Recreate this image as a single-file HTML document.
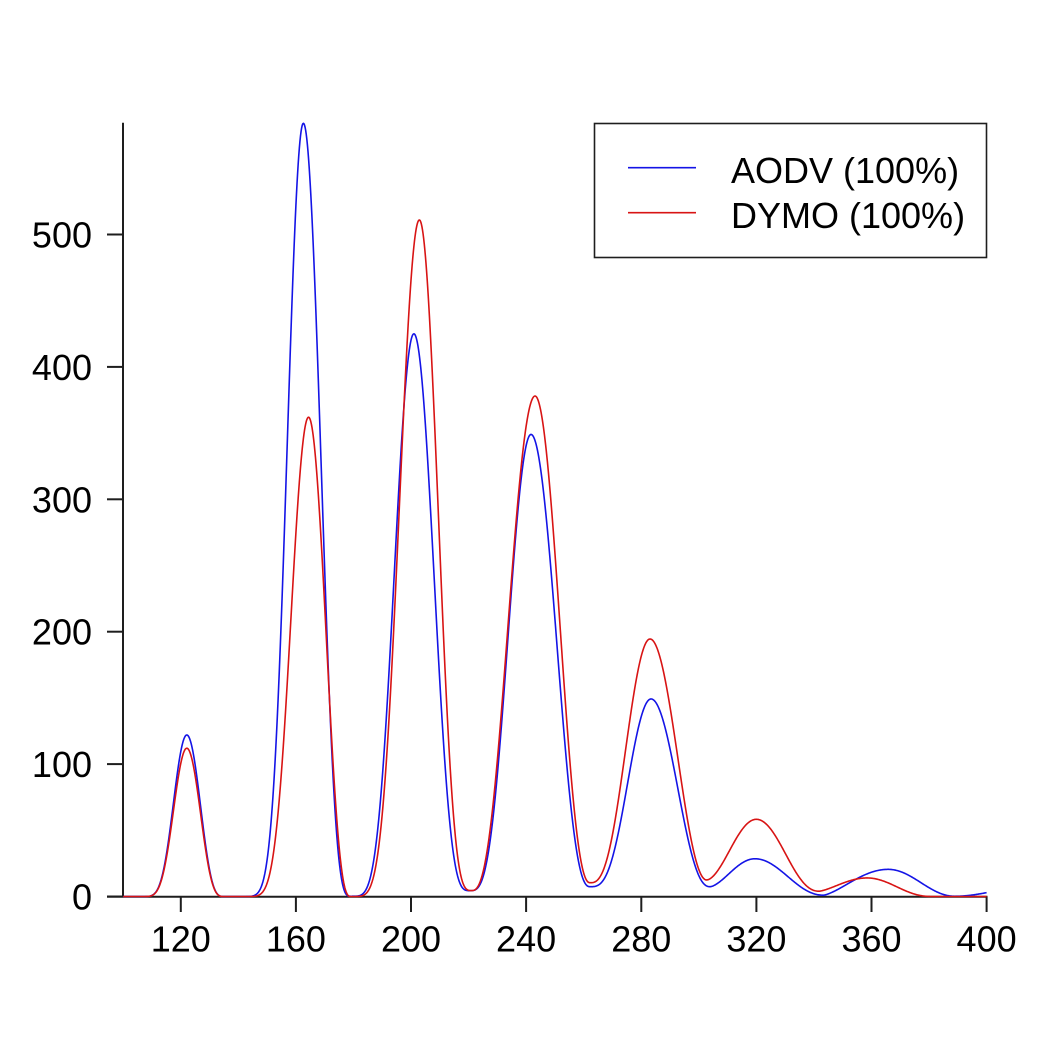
<!DOCTYPE html>
<html>
<head>
<meta charset="utf-8">
<style>
html,body{margin:0;padding:0;background:#fff;width:1050px;height:1050px;overflow:hidden;}
svg{display:block;}
text{font-family:"Liberation Sans",Arial,Helvetica,sans-serif;fill:#000;}
</style>
</head>
<body>
<svg id="chart" width="1050" height="1050" viewBox="0 0 1050 1050" xmlns="http://www.w3.org/2000/svg">
  <rect x="0" y="0" width="1050" height="1050" fill="#ffffff"/>
  <g stroke="#1e1e1e" stroke-width="2" fill="none">
    <line x1="123" y1="122.7" x2="123" y2="897.5"/>
    <line x1="107" y1="896.8" x2="987.5" y2="896.8"/>
    <line x1="107" y1="896.5" x2="123" y2="896.5"/>
    <line x1="107" y1="764.1" x2="123" y2="764.1"/>
    <line x1="107" y1="631.7" x2="123" y2="631.7"/>
    <line x1="107" y1="499.3" x2="123" y2="499.3"/>
    <line x1="107" y1="366.9" x2="123" y2="366.9"/>
    <line x1="107" y1="234.5" x2="123" y2="234.5"/>
    <line x1="180.8" y1="896.8" x2="180.8" y2="912"/>
    <line x1="295.9" y1="896.8" x2="295.9" y2="912"/>
    <line x1="411.0" y1="896.8" x2="411.0" y2="912"/>
    <line x1="526.1" y1="896.8" x2="526.1" y2="912"/>
    <line x1="641.3" y1="896.8" x2="641.3" y2="912"/>
    <line x1="756.4" y1="896.8" x2="756.4" y2="912"/>
    <line x1="871.5" y1="896.8" x2="871.5" y2="912"/>
    <line x1="986.6" y1="896.8" x2="986.6" y2="912"/>
  </g>
  <g font-size="36" text-anchor="end">
    <text x="92" y="909.5">0</text>
    <text x="92" y="777.1">100</text>
    <text x="92" y="644.7">200</text>
    <text x="92" y="512.3">300</text>
    <text x="92" y="379.9">400</text>
    <text x="92" y="247.5">500</text>
  </g>
  <g font-size="36" text-anchor="middle">
    <text x="180.8" y="951.5">120</text>
    <text x="295.9" y="951.5">160</text>
    <text x="411.0" y="951.5">200</text>
    <text x="526.1" y="951.5">240</text>
    <text x="641.3" y="951.5">280</text>
    <text x="756.4" y="951.5">320</text>
    <text x="871.5" y="951.5">360</text>
    <text x="986.6" y="951.5">400</text>
  </g>
  <path id="blueC" d="" fill="none" stroke="#1414e6" stroke-width="1.6" stroke-linejoin="round"/>
  <path id="redC" d="" fill="none" stroke="#d81414" stroke-width="1.6" stroke-linejoin="round"/>
  <rect x="594.5" y="123.5" width="392" height="134" fill="#ffffff" stroke="#1e1e1e" stroke-width="1.6"/>
  <line x1="628" y1="167.7" x2="696" y2="167.7" stroke="#1414e6" stroke-width="1.6"/>
  <line x1="628" y1="212.7" x2="696" y2="212.7" stroke="#d81414" stroke-width="1.6"/>
  <text x="731" y="183" font-size="36">AODV (100%)</text>
  <text x="731" y="228" font-size="36">DYMO (100%)</text>
</svg>
<script>
(function(){
  function X(x){return 123.2+(x-100)*2.878;}
  function Y(y){return 896.5-y*1.324;}
  function B(s){return (1+Math.cos(Math.PI*s))/2;}
  function ends(pts,j){
    var a=pts[j],b=pts[j+1];
    var pk=a[1]>b[1]?a:b, mn=a[1]>b[1]?b:a;
    return [pk,mn,Math.abs(pk[0]-mn[0])];
  }
  function prep(pts,cals){
    return cals.map(function(c,j){
      if(c===null) return null;
      if(typeof c==='number') return c;
      var e=ends(pts,j),pk=e[0],mn=e[1],L=e[2];
      var sum=0;
      c.forEach(function(p){
        var s=Math.abs(p[0]-pk[0])/L;
        var r=(p[1]-mn[1])/(pk[1]-mn[1]);
        r=Math.min(Math.max(r,0.001),0.999);
        var q=Math.log(r)/Math.log(B(s));
        sum+=Math.max(0.7,Math.min(8,q));
      });
      return Math.max(0.7,sum/c.length);
    });
  }
  function evalc(pts,qs,x){
    for(var j=0;j<pts.length-1;j++){
      var a=pts[j],b=pts[j+1];
      if(x>=a[0]&&x<=b[0]){
        if(a[1]===b[1]||qs[j]===null) return a[1];
        var e=ends(pts,j),pk=e[0],mn=e[1],L=e[2];
        var s=Math.abs(x-pk[0])/L;
        return mn[1]+(pk[1]-mn[1])*Math.pow(B(s),qs[j]);
      }
    }
    return 0;
  }
  function build(pts,cals){
    var qs=prep(pts,cals);
    var d='';
    for(var i=0;i<=1500;i++){
      var x=100+i*0.2;
      var y=evalc(pts,qs,x);
      d+=(i?'L':'M')+X(x).toFixed(2)+' '+Y(y).toFixed(2);
    }
    return d;
  }
  var bluePts=[[100,0],[106,0],[122.1,122],[135,0],[139.5,0],[162.6,584],[179,0.2],[201,425],[220.5,4.4],[241.7,349],[262.2,7.4],[283.4,149.2],[303.9,7.4],[319.5,28.5],[343.3,1],[365.8,20.5],[389,0.2],[412,6]];
  var blueCals=[
    null,
    [[116.9,61]],
    [[127.3,61]],
    null,
    [[155.1,224],[158,420],[159.7,500]],
    [[167.8,420],[169.8,224]],
    [[193.9,224],[195.2,292]],
    [[206.8,292],[208.3,224],[213.5,60]],
    [[229.2,88],[235.5,239]],
    [[248.1,239],[256.4,88]],
    [[269.1,32.6],[274.4,82.9],[280.2,133.3]],
    [[287.7,133.3],[292.3,82.9],[297.5,32.6]],
    [[311.9,20]],
    [[328.2,20]],
    [[353.7,12.5]],
    [[375.7,12.5]],
    1
  ];
  var redPts=[[100,0],[106,0],[122.1,112],[135,0],[141.5,0],[164.4,362],[179,0],[202.9,511],[221.1,4.5],[243.1,378],[262.2,10.4],[283.05,194.5],[302.7,12.5],[320,58.3],[341.8,4],[358.5,14],[381,0],[400,0]];
  var redCals=[
    null,
    [[116.9,56]],
    [[127.3,56]],
    null,
    [[158.9,224],[161.7,329.7]],
    [[168.6,329.7],[169,224]],
    [[194.8,224],[195.6,292]],
    [[209.5,292],[210.7,224]],
    [[228.9,88],[235.2,239]],
    [[249.7,239],[257.8,88]],
    [[267.4,32.6],[272.6,82.9],[276.7,133.3]],
    [[290.6,133.3],[294.1,82.9],[298.7,32.6]],
    [[311.4,37.6]],
    [[328.8,37.6]],
    [[349.1,10]],
    [[369.9,6.2]],
    null
  ];
  document.getElementById('blueC').setAttribute('d',build(bluePts,blueCals));
  document.getElementById('redC').setAttribute('d',build(redPts,redCals));
})();
</script>
</body>
</html>
